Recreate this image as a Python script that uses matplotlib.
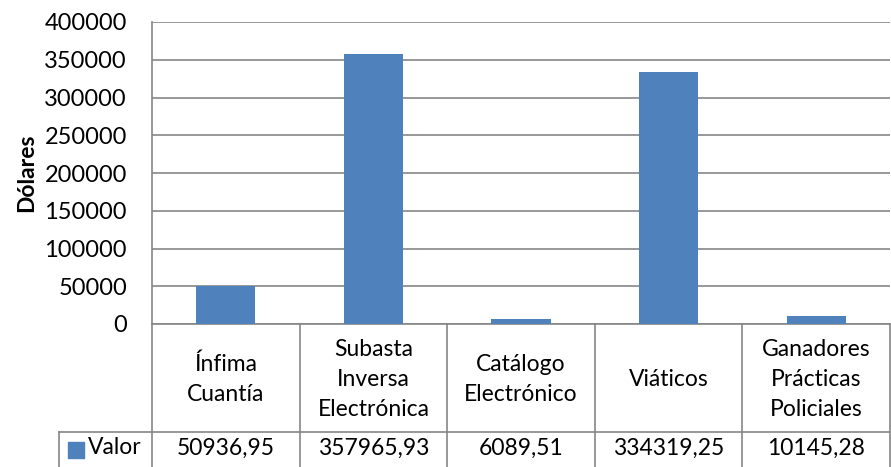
import matplotlib.pyplot as plt

# data
categorias = ["Ínfima\nCuantía", "Subasta\nInversa\nElectrónica", "Catálogo\nElectrónico",
              "Viáticos", "Ganadores\nPrácticas\nPoliciales"]
valores = [50936.95, 357965.93, 6089.51, 334319.25, 10145.28]
valores_txt = ["50936,95", "357965,93", "6089,51", "334319,25", "10145,28"]
serie = "Valor"
yticks = [0, 50000, 100000, 150000, 200000, 250000, 300000, 350000, 400000]

W, H = 891, 467
BLUE = "#4F81BD"
GRID = "#868686"

plt.rcParams['font.family'] = ['Lato', 'DejaVu Sans']

fig = plt.figure(figsize=(W / 100, H / 100), dpi=100)
ax = fig.add_axes([152 / W, 1 - 324 / H, (890 - 152) / W, (324 - 22) / H])

x = list(range(len(valores)))
ax.bar(x, valores, width=0.4, color=BLUE, zorder=3)
ax.set_xlim(-0.5, len(valores) - 0.5)
ax.set_ylim(0, 400000)
ax.set_yticks(yticks)
ax.set_yticklabels([str(t) for t in yticks], fontsize=17)
ax.set_xticks([])
ax.tick_params(axis='y', length=0, pad=18)
ax.grid(axis='y', color=GRID, linewidth=1.2, zorder=0)
for s in ["top", "right"]:
    ax.spines[s].set_visible(False)
ax.spines["left"].set_color(GRID)
ax.spines["bottom"].set_color(GRID)
ax.spines["left"].set_linewidth(1.2)
ax.spines["bottom"].set_linewidth(1.2)
ax.set_ylabel("Dólares", fontsize=16.5, fontweight='bold', labelpad=5)

# data table below the axis
tr = ax.get_xaxis_transform()
axh = 324 - 22
row1 = -(432 - 324) / axh
row2 = -(475 - 324) / axh
left_lab = -0.5 - (152 - 57) / 150
lw = 1.2
for i in range(len(valores) + 1):
    ax.plot([i - 0.5, i - 0.5], [0, row2], color=GRID, lw=lw, transform=tr, clip_on=False)
ax.plot([left_lab, len(valores) - 0.5], [row1, row1], color=GRID, lw=lw, transform=tr, clip_on=False)
ax.plot([left_lab, left_lab], [row1, row2], color=GRID, lw=lw, transform=tr, clip_on=False)

ymid = (row1 + -(467 - 324) / axh) / 2
for i, (c, v) in enumerate(zip(categorias, valores_txt)):
    ax.text(i, row1 / 2 - 0.005, c, ha='center', va='center', fontsize=16.5, linespacing=1.55,
            transform=tr, clip_on=False)
    ax.text(i, ymid + 0.005, v, ha='center', va='center',
            fontsize=16.5, transform=tr, clip_on=False)

# legend key in the table
ax.scatter([left_lab + 0.12], [ymid], marker='s', s=120, color=BLUE, transform=tr, clip_on=False)
ax.text(left_lab + 0.2, ymid + 0.005, serie, ha='left', va='center', fontsize=16.5,
        transform=tr, clip_on=False)

fig.savefig("out.png", dpi=100)
